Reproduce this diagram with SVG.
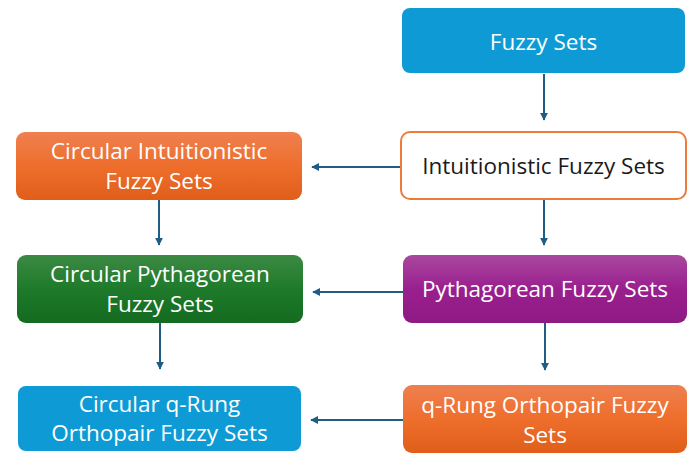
<svg xmlns="http://www.w3.org/2000/svg" width="700" height="467" viewBox="0 0 700 467">
<defs>
<linearGradient id="gOrange" x1="0" y1="0" x2="0" y2="1"><stop offset="0" stop-color="#EE8050"/><stop offset="0.5" stop-color="#EE6E2C"/><stop offset="1" stop-color="#E05E1A"/></linearGradient>
<linearGradient id="gGreen" x1="0" y1="0" x2="0" y2="1"><stop offset="0" stop-color="#3C8A44"/><stop offset="0.5" stop-color="#1E7A2A"/><stop offset="1" stop-color="#136B20"/></linearGradient>
<linearGradient id="gPurple" x1="0" y1="0" x2="0" y2="1"><stop offset="0" stop-color="#A9489F"/><stop offset="0.5" stop-color="#9A1F8E"/><stop offset="1" stop-color="#8E1A84"/></linearGradient>
<marker id="arr" viewBox="0 0 10 10" refX="9" refY="5" markerWidth="4" markerHeight="4" orient="auto"><path d="M0,0 L10,5 L0,10 z" fill="#1F5D85"/></marker>
</defs>
<style>
text{font-family:"Open Sans","Liberation Sans",sans-serif;font-size:22.5px;text-anchor:middle;dominant-baseline:central}
.w{fill:#FFFFFF}
.k{fill:#1A1A1A}
.c{stroke:#1F5D85;stroke-width:2;fill:none;marker-end:url(#arr)}
</style>
<rect width="700" height="467" fill="#FFFFFF"/>
<g id="connectors">
<line class="c" x1="544" y1="74" x2="544" y2="120"/>
<line class="c" x1="401" y1="167" x2="312" y2="167"/>
<line class="c" x1="544" y1="200" x2="544" y2="245"/>
<line class="c" x1="159" y1="200" x2="159" y2="245"/>
<line class="c" x1="403" y1="292" x2="313" y2="292"/>
<line class="c" x1="545" y1="323" x2="545" y2="370"/>
<line class="c" x1="160" y1="323" x2="160" y2="369"/>
<line class="c" x1="403" y1="420" x2="311" y2="420"/>
</g>
<g id="fuzzy-sets">
<rect x="402" y="8" width="283" height="65" rx="8" fill="#0E9BD5"/>
<text class="w" x="543.5" y="41">Fuzzy Sets</text>
</g>
<g id="intuitionistic">
<rect x="401" y="132" width="285" height="67" rx="9" fill="#FFFFFF" stroke="#EE7B3A" stroke-width="2"/>
<text class="k" x="543.5" y="165">Intuitionistic Fuzzy Sets</text>
</g>
<g id="circular-intuitionistic">
<rect x="16" y="132" width="286" height="68" rx="9" fill="url(#gOrange)"/>
<text class="w" x="159" y="150">Circular Intuitionistic</text>
<text class="w" x="159" y="180">Fuzzy Sets</text>
</g>
<g id="pythagorean">
<rect x="403" y="255" width="284" height="68" rx="9" fill="url(#gPurple)"/>
<text class="w" x="545" y="288">Pythagorean Fuzzy Sets</text>
</g>
<g id="circular-pythagorean">
<rect x="17" y="255" width="286" height="68" rx="9" fill="url(#gGreen)"/>
<text class="w" x="160" y="273">Circular Pythagorean</text>
<text class="w" x="160" y="303">Fuzzy Sets</text>
</g>
<g id="q-rung">
<rect x="403" y="385" width="284" height="68" rx="9" fill="url(#gOrange)"/>
<text class="w" x="545" y="404">q-Rung Orthopair Fuzzy</text>
<text class="w" x="545" y="434">Sets</text>
</g>
<g id="circular-q-rung">
<rect x="18" y="386" width="283" height="65" rx="8" fill="#0E9BD5"/>
<text class="w" x="159.5" y="403">Circular q-Rung</text>
<text class="w" x="159.5" y="432">Orthopair Fuzzy Sets</text>
</g>
</svg>
